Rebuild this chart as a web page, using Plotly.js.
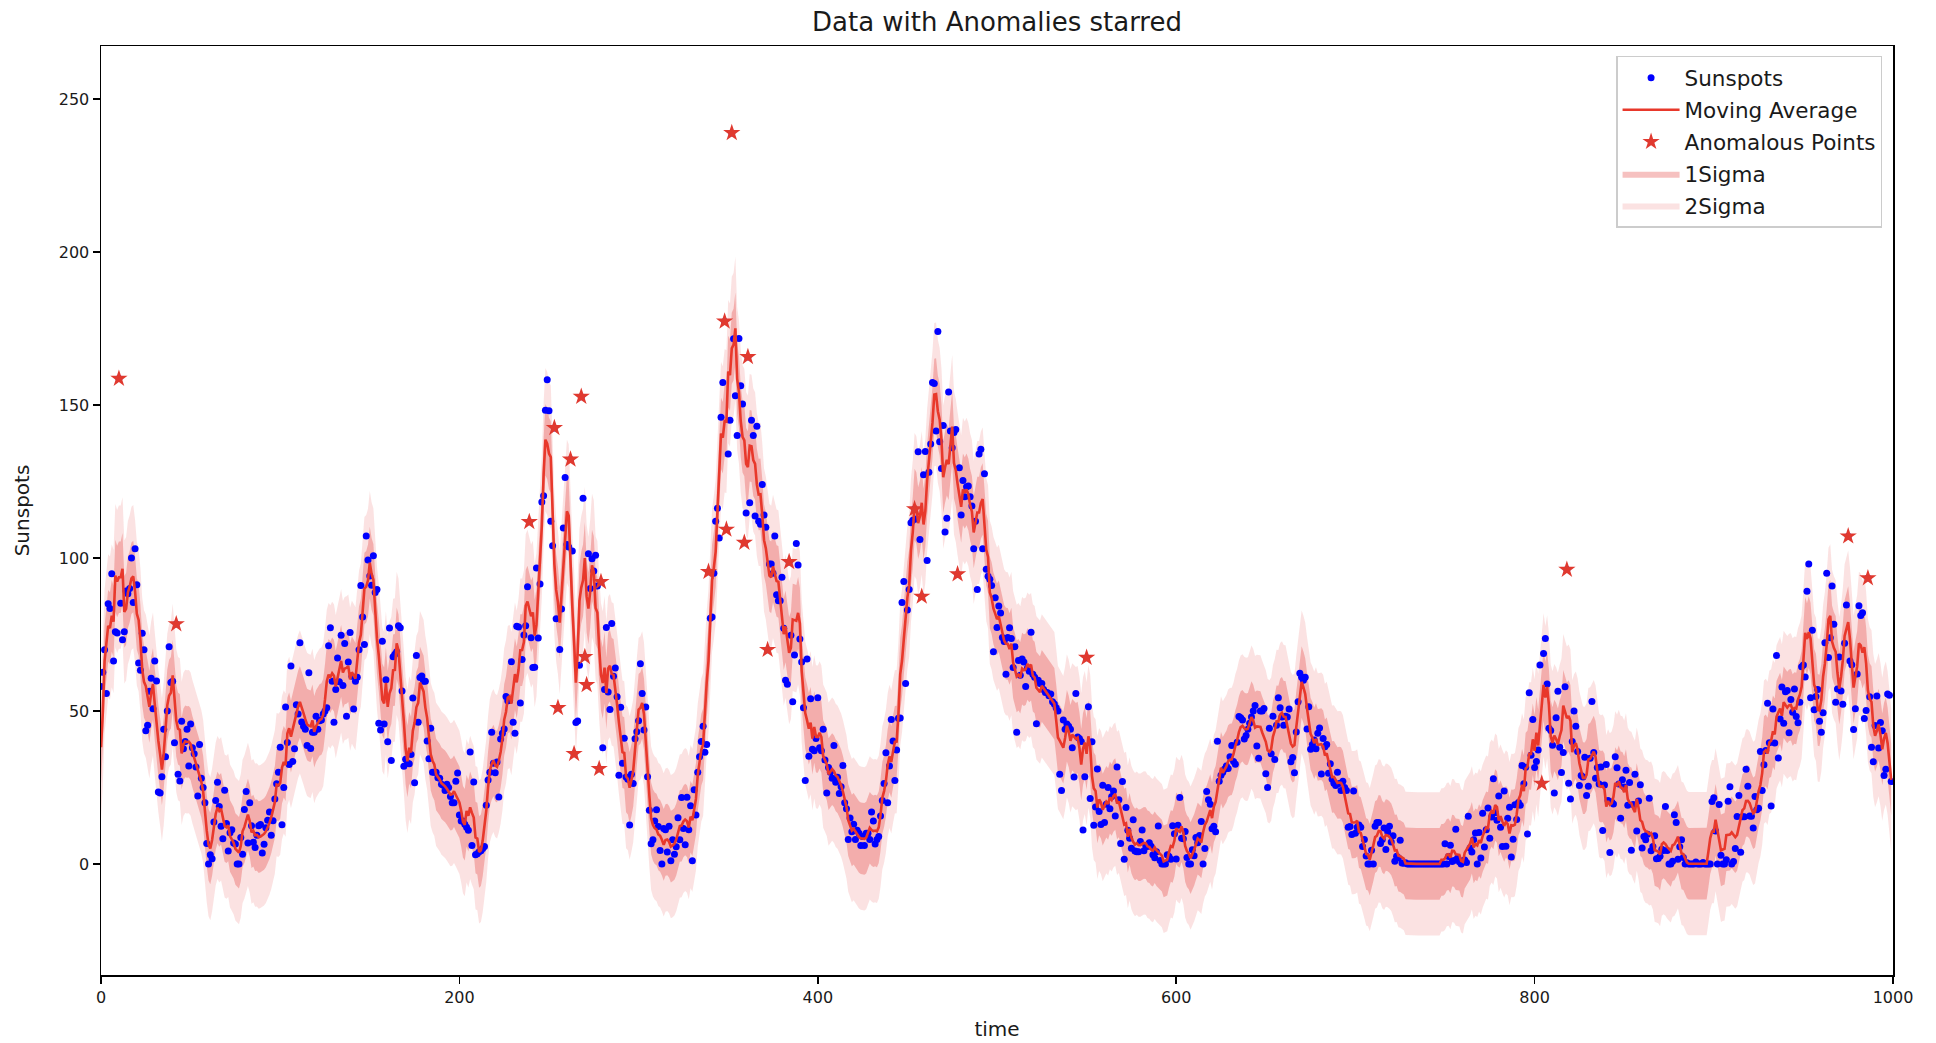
<!DOCTYPE html>
<html>
<head>
<meta charset="utf-8">
<script src="https://cdn.plot.ly/plotly-3.0.1.min.js"></script>
<style>
html, body { margin: 0; padding: 0; background: #ffffff; }
#chart { width: 1936px; height: 1043px; }
</style>
</head>
<body>
<div id="chart"></div>
<script>
// Monthly sunspot counts, one row per year (index 0 = first month)
const sunspots = [
  58.0,62.6,70.0,55.7,85.0,83.5,94.8,66.3,75.9,75.5,158.6,85.2,
  73.3,75.9,89.2,88.3,90.0,100.0,85.4,103.0,91.2,65.7,63.3,75.4,
  70.0,43.5,45.3,56.4,60.7,50.7,66.3,59.8,23.5,23.2,28.5,44.0,
  35.0,50.0,71.0,59.3,59.7,39.6,78.4,29.3,27.1,46.6,37.6,40.0,
  44.0,32.0,45.7,38.0,36.0,31.7,22.2,39.0,28.0,25.0,20.0,6.7,
  0.0,3.0,1.7,13.7,20.7,26.7,18.8,12.3,8.2,24.1,13.2,4.2,
  10.2,11.2,6.8,6.5,0.0,0.0,8.6,3.2,17.8,23.7,6.8,20.0,
  12.5,7.1,5.4,9.4,12.5,12.9,3.6,6.4,11.8,14.3,17.0,9.4,
  14.1,21.2,26.2,30.0,38.1,12.8,25.0,51.3,39.7,32.5,64.7,33.5,
  37.6,52.0,49.0,72.3,46.4,45.0,44.0,38.7,62.5,37.7,43.0,43.0,
  48.3,44.0,46.8,47.0,49.0,50.0,51.0,71.3,77.2,59.7,46.3,57.0,
  67.3,59.5,74.7,58.3,72.0,48.3,66.0,75.6,61.3,50.6,59.7,61.0,
  70.0,91.0,80.7,71.7,107.2,99.3,94.1,91.1,100.7,88.7,89.7,46.0,
  43.8,72.8,45.7,60.2,39.9,77.1,33.8,67.7,68.5,69.3,77.8,77.2,
  56.5,31.9,34.2,32.9,32.7,35.8,54.2,26.5,68.1,46.3,60.9,61.4,
  59.7,59.7,40.2,34.4,44.3,30.0,30.0,30.0,28.2,28.0,26.0,25.7,
  24.0,26.0,25.0,22.0,20.0,20.0,27.0,29.7,16.0,14.0,14.0,13.0,
  12.0,11.0,36.6,6.0,26.8,3.0,3.3,4.0,4.3,5.0,5.7,19.2,
  27.4,30.0,43.0,32.9,29.8,33.3,21.9,40.8,42.7,44.1,54.7,53.3,
  53.5,66.1,46.3,42.7,77.7,77.4,52.6,66.8,74.8,77.8,90.6,111.8,
  73.9,64.2,64.3,96.7,73.8,91.5,118.3,120.3,148.3,158.2,148.1,112.0,
  104.0,142.5,80.1,51.0,70.1,83.3,109.8,126.3,104.4,103.6,132.2,102.3,
  36.0,46.2,46.7,64.9,152.7,119.5,67.7,58.5,101.4,90.0,99.7,95.7,
  100.9,90.8,31.1,92.2,38.0,57.0,77.3,56.2,50.5,78.6,61.3,64.0,
  54.6,29.0,51.2,32.9,41.1,28.4,27.7,12.7,29.3,26.3,40.9,43.2,
  46.8,65.4,55.7,43.8,51.3,28.5,17.5,6.6,7.9,14.0,17.7,12.2,
  4.4,0.0,11.6,11.2,3.9,12.3,1.0,7.9,3.2,5.6,15.1,7.9,
  21.7,11.6,6.3,21.8,11.2,19.0,1.0,24.2,16.0,30.0,35.0,40.0,
  45.0,36.5,39.0,95.5,80.3,80.7,95.0,112.0,116.2,106.5,146.0,157.3,
  177.3,109.3,134.0,145.0,238.9,171.6,153.0,140.0,171.7,156.3,150.3,105.0,
  114.7,165.7,118.0,145.0,140.0,113.7,143.0,112.0,111.0,124.0,114.0,110.0,
  70.0,98.0,98.0,95.0,107.2,88.0,86.0,86.0,93.7,77.0,60.0,58.7,
  98.7,74.7,53.0,68.3,104.7,97.7,73.5,66.0,51.0,27.3,67.0,35.2,
  54.0,37.5,37.0,41.0,54.3,38.0,37.0,44.0,34.0,23.2,31.5,30.0,
  28.0,38.7,26.7,28.3,23.0,25.2,32.2,20.0,18.0,8.0,15.0,10.5,
  13.0,8.0,11.0,10.0,6.0,9.0,6.0,10.0,10.0,8.0,17.0,14.0,
  6.5,8.0,9.0,15.7,20.7,26.3,36.3,20.0,32.0,47.2,40.2,27.3,
  37.2,47.6,47.7,85.4,92.3,59.0,83.0,89.7,111.5,112.3,116.0,112.7,
  134.7,106.0,87.4,127.2,134.8,99.2,128.0,137.2,157.3,157.0,141.5,174.0,
  138.0,129.2,143.3,108.5,113.0,154.2,141.5,136.0,141.0,142.0,94.7,129.5,
  114.0,125.3,120.0,123.3,123.5,120.0,117.0,103.0,112.0,89.7,134.0,135.5,
  103.0,127.5,96.3,94.0,93.0,91.0,69.3,87.0,77.3,84.3,82.0,74.0,
  72.7,62.0,74.0,77.2,73.7,64.2,71.0,43.0,66.5,61.7,67.0,66.0,
  58.0,64.0,63.0,75.7,62.0,61.0,45.8,60.0,59.0,59.0,57.0,56.0,
  56.0,55.0,55.5,53.0,52.3,51.0,50.0,29.3,24.0,47.0,44.0,45.7,
  45.0,44.0,38.0,28.4,55.7,41.5,41.0,40.0,11.1,28.5,67.4,51.4,
  21.4,39.9,12.6,18.6,31.0,17.1,12.9,25.7,13.5,19.5,25.0,18.0,
  22.0,23.8,15.7,31.7,21.0,6.7,26.9,1.5,18.4,11.0,8.4,5.1,
  14.4,4.2,4.0,4.0,7.3,11.1,4.3,6.0,5.7,6.9,5.8,3.0,
  2.0,4.0,12.4,1.1,0.0,0.0,0.0,3.0,2.4,1.5,12.5,9.9,
  1.6,12.6,21.7,8.4,8.2,10.6,2.1,0.0,0.0,4.6,2.7,8.6,
  6.9,9.3,13.9,0.0,5.0,23.7,21.0,19.5,11.5,12.3,10.5,40.1,
  27.0,29.0,30.0,31.0,32.0,31.2,35.0,38.7,33.5,32.6,39.8,48.2,
  47.8,47.0,40.8,42.0,44.0,46.0,48.0,50.0,51.8,38.5,34.5,50.0,
  50.0,50.8,29.5,25.0,44.3,36.0,48.3,34.1,45.3,54.3,51.0,48.0,
  45.3,48.3,48.0,50.6,33.4,34.8,29.8,43.1,53.0,62.3,61.0,60.0,
  61.0,44.1,51.4,37.5,39.0,40.5,37.6,42.7,44.4,29.4,41.0,38.3,
  39.0,29.6,32.7,27.7,26.4,25.6,30.0,26.3,24.0,27.0,25.0,24.0,
  12.0,12.2,9.6,23.8,10.0,12.0,12.7,12.0,5.7,8.0,2.6,0.0,
  0.0,4.5,0.0,12.3,13.5,13.5,6.7,8.0,11.7,4.7,10.5,12.3,
  7.2,9.2,0.9,2.5,2.0,7.7,0.3,0.2,0.4,0.0,0.0,0.0,
  0.0,0.0,0.0,0.0,0.0,0.0,0.0,0.0,0.0,0.0,0.0,0.0,
  0.0,0.0,0.0,0.0,0.0,0.0,6.6,0.0,2.4,6.1,0.8,1.1,
  11.3,1.9,0.7,0.0,1.0,1.3,0.5,15.6,5.2,3.9,7.9,10.1,
  0.0,10.3,1.9,16.6,5.5,11.2,18.3,8.4,15.3,27.8,16.7,14.3,
  22.2,12.0,5.7,23.8,5.8,14.9,18.5,2.3,8.1,19.3,14.5,20.1,
  19.2,32.2,26.2,31.6,9.8,55.9,35.5,47.2,31.5,33.5,37.2,65.0,
  26.3,68.8,73.7,58.8,44.3,43.6,38.8,23.2,47.8,56.4,38.1,29.9,
  36.4,57.9,96.2,26.4,21.2,40.0,50.0,45.0,36.7,25.6,28.9,28.4,
  34.9,22.4,25.4,34.5,53.1,36.4,28.0,31.5,26.1,31.7,10.9,25.8,
  32.5,20.7,3.7,20.2,19.6,35.0,31.4,26.1,14.9,27.5,25.1,30.6,
  19.2,26.6,4.5,19.4,29.3,10.8,20.6,25.9,5.2,9.0,7.9,9.7,
  21.5,4.3,5.7,9.2,1.7,1.8,2.5,4.8,4.4,18.8,4.4,0.0,
  0.0,0.9,16.1,13.5,1.5,5.6,7.9,2.1,0.0,0.4,0.0,0.0,
  0.0,0.0,0.6,0.0,0.0,0.0,0.5,0.0,0.0,0.0,0.0,20.4,
  21.6,10.8,0.0,19.4,2.8,0.0,0.0,1.4,20.5,25.2,0.0,0.8,
  5.0,15.5,22.4,3.8,15.4,15.4,30.9,25.4,15.7,15.6,11.7,22.0,
  17.7,18.2,36.7,24.0,32.4,37.1,52.5,39.6,18.9,50.6,39.5,68.1,
  34.6,47.4,57.8,46.0,56.3,56.7,42.9,53.7,49.6,57.2,48.2,46.1,
  52.8,64.4,65.0,61.1,89.1,98.0,54.3,76.4,50.4,54.7,57.0,46.6,
  43.0,49.4,72.3,95.0,67.5,73.9,90.8,78.3,52.8,57.2,67.6,56.5,
  52.2,72.1,84.6,107.1,66.3,65.1,43.9,50.7,62.1,84.4,81.2,82.1,
  47.5,50.1,93.4,54.6,38.1,33.4,45.2,54.9,37.9,46.2,43.5,28.9,
  30.9,55.5,55.1,26.9
];

// Indices of the starred (anomalous) points
const anomalyIndex = [10, 42, 239, 253, 255, 262, 264, 268, 270, 271, 278, 279,
  339, 348, 349, 352, 359, 361, 372, 384, 454, 458, 478, 550, 804, 818, 975, 986];

const windowSize = 5;        // moving-average window
const residualStd = 11.7;    // standard deviation of the residual (band half-width)
const xTickVals = [0, 200, 400, 600, 800, 1000];
const yTickVals = [0, 50, 100, 150, 200, 250];

const time = sunspots.map((_, i) => i);

function movingAverage(y, w) {
  const h = Math.floor(w / 2);
  return y.map((_, i) => {
    let s = 0;
    for (let j = i - h; j <= i + h; j++) {
      if (j >= 0 && j < y.length) s += y[j];
    }
    return s / w;
  });
}

const avg = movingAverage(sunspots, windowSize);
const upper1 = avg.map(v => v + residualStd);
const lower1 = avg.map(v => v - residualStd);
const upper2 = avg.map(v => v + 2 * residualStd);
const lower2 = avg.map(v => v - 2 * residualStd);

const anomX = anomalyIndex.map(i => time[i]);
const anomY = anomalyIndex.map(i => sunspots[i]);

const FONT = 'DejaVu Sans, Verdana, sans-serif';

const traces = [
  { x: time, y: lower2, mode: 'lines', line: { width: 0 }, showlegend: false, hoverinfo: 'skip', legendgroup: 'g5' },
  { x: time, y: upper2, mode: 'lines', line: { width: 0 }, fill: 'tonexty',
    fillcolor: 'rgba(226,62,58,0.15)', name: '2Sigma', legendrank: 5, legendgroup: 'g5', hoverinfo: 'skip' },
  { x: time, y: lower1, mode: 'lines', line: { width: 0 }, showlegend: false, hoverinfo: 'skip', legendgroup: 'g4' },
  { x: time, y: upper1, mode: 'lines', line: { width: 0 }, fill: 'tonexty',
    fillcolor: 'rgba(226,62,58,0.32)', name: '1Sigma', legendrank: 4, legendgroup: 'g4', hoverinfo: 'skip' },
  { x: time, y: sunspots, mode: 'markers', name: 'Sunspots', legendrank: 1, legendgroup: 'g1',
    marker: { color: '#0000ff', size: 7 } },
  { x: time, y: avg, mode: 'lines', name: 'Moving Average', legendrank: 2, legendgroup: 'g2',
    line: { color: '#e8382b', width: 2.6 } },
  { x: anomX, y: anomY, mode: 'markers', name: 'Anomalous Points', legendrank: 3, legendgroup: 'g3',
    marker: { color: '#e0392f', symbol: 'star', size: 13 } }
];

const layout = {
  width: 1936, height: 1043,
  paper_bgcolor: '#ffffff', plot_bgcolor: '#ffffff',
  margin: { l: 101, r: 43, t: 46, b: 68 },
  font: { family: FONT, color: '#1a1a1a', size: 16 },
  title: { text: 'Data with Anomalies starred', x: 0.5, xref: 'paper', xanchor: 'center',
    y: 0.979, yref: 'container', yanchor: 'middle', font: { family: FONT, size: 26, color: '#1a1a1a' } },
  xaxis: {
    range: [0, 1000], tickvals: xTickVals, ticks: 'outside', ticklen: 7, tickwidth: 1.5, tickcolor: '#000',
    showline: true, linecolor: '#000', linewidth: 1.5, mirror: true, showgrid: false, zeroline: false,
    tickfont: { family: FONT, size: 16, color: '#1a1a1a' },
    title: { text: 'time', font: { family: FONT, size: 20, color: '#1a1a1a' }, standoff: 16 }
  },
  yaxis: {
    range: [-36.3, 267.3], tickvals: yTickVals, ticks: 'outside', ticklen: 7, tickwidth: 1.5, tickcolor: '#000',
    showline: true, linecolor: '#000', linewidth: 1.5, mirror: true, showgrid: false, zeroline: false,
    tickfont: { family: FONT, size: 16, color: '#1a1a1a' },
    title: { text: 'Sunspots', font: { family: FONT, size: 20, color: '#1a1a1a' }, standoff: 24 }
  },
  legend: {
    x: 0.9939, xanchor: 'right', y: 0.9894, yanchor: 'top',
    traceorder: 'grouped', itemwidth: 57,
    bgcolor: 'rgba(255,255,255,0.85)', bordercolor: '#cccccc', borderwidth: 1.5,
    font: { family: FONT, size: 21.5, color: '#1a1a1a' }, tracegroupgap: 1
  },
  showlegend: true
};

Plotly.newPlot('chart', traces, layout, { displayModeBar: false, staticPlot: true });
</script>
</body>
</html>
